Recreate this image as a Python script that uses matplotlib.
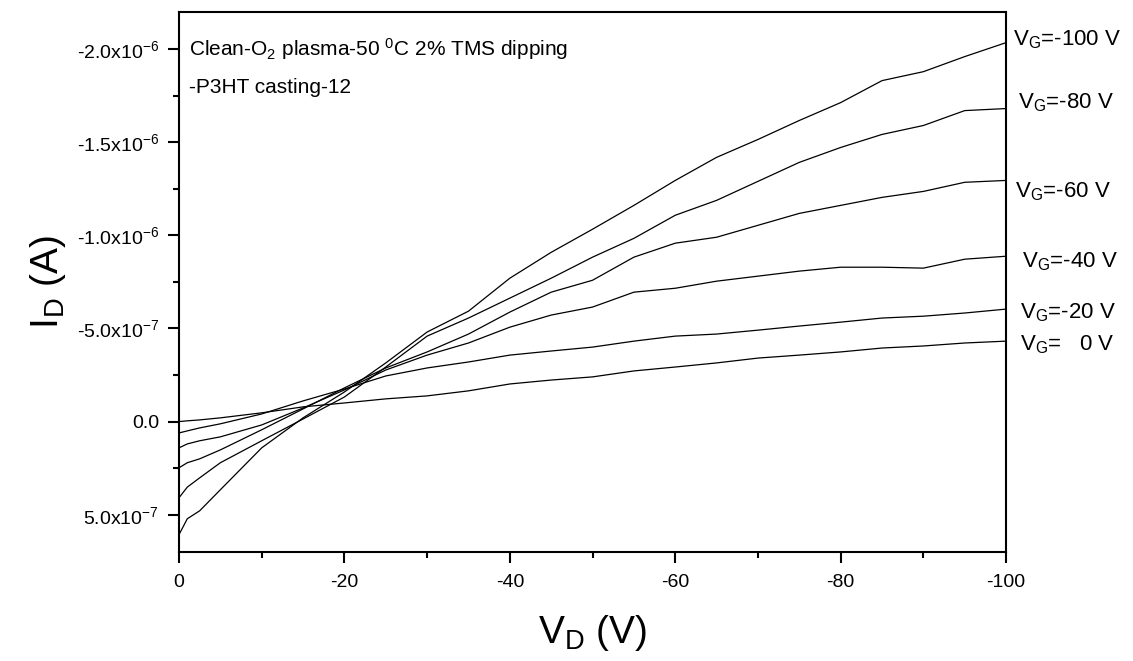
import matplotlib
matplotlib.use("Agg")
import matplotlib.pyplot as plt
from matplotlib.ticker import FixedLocator, FuncFormatter

plt.rcParams['font.family'] = ['Liberation Sans', 'DejaVu Sans']
plt.rcParams['mathtext.fontset'] = 'custom'
plt.rcParams['mathtext.rm'] = 'Liberation Sans'
plt.rcParams['mathtext.it'] = 'Liberation Sans'
plt.rcParams['mathtext.bf'] = 'Liberation Sans'
plt.rcParams['axes.unicode_minus'] = False

# drain voltage (V)
vd = [0, -1, -2.5, -5, -10, -15, -20, -25, -30, -35, -40, -45, -50,
      -55, -60, -65, -70, -75, -80, -85, -90, -95, -100]

# drain current in units of 1e-7 A, one list per gate voltage
id_vg0 = [0.00, -0.04, -0.09, -0.20, -0.47, -0.79, -1.00, -1.22, -1.38, -1.65, -2.02, -2.23,
          -2.40, -2.72, -2.93, -3.15, -3.41, -3.57, -3.74, -3.95, -4.06, -4.22, -4.32]
id_vg20 = [0.61, 0.50, 0.34, 0.12, -0.41, -1.11, -1.75, -2.45, -2.88, -3.20, -3.57, -3.79,
           -4.00, -4.32, -4.59, -4.70, -4.91, -5.13, -5.34, -5.56, -5.66, -5.83, -6.04]
id_vg40 = [1.41, 1.20, 1.03, 0.82, 0.18, -0.73, -1.70, -2.77, -3.57, -4.22, -5.07, -5.72,
           -6.15, -6.95, -7.16, -7.54, -7.81, -8.08, -8.29, -8.29, -8.24, -8.72, -8.88]
id_vg60 = [2.48, 2.21, 2.00, 1.52, 0.44, -0.68, -1.81, -2.88, -3.74, -4.70, -5.88, -6.95,
           -7.59, -8.83, -9.58, -9.90, -10.54, -11.18, -11.61, -12.04, -12.36, -12.85, -12.95]
id_vg80 = [4.09, 3.52, 3.02, 2.21, 1.03, -0.14, -1.32, -2.93, -4.59, -5.56, -6.63, -7.70,
           -8.83, -9.84, -11.08, -11.88, -12.90, -13.92, -14.72, -15.42, -15.90, -16.70, -16.81]
id_vg100 = [6.07, 5.22, 4.79, 3.66, 1.41, -0.20, -1.59, -3.15, -4.81, -5.93, -7.70, -9.09,
            -10.33, -11.61, -12.95, -14.19, -15.15, -16.17, -17.13, -18.31, -18.79, -19.60, -20.35]

curves = [id_vg0, id_vg20, id_vg40, id_vg60, id_vg80, id_vg100]
labels = [r'V$_\mathrm{G}$=   0 V', r'V$_\mathrm{G}$=-20 V', r'V$_\mathrm{G}$=-40 V',
          r'V$_\mathrm{G}$=-60 V', r'V$_\mathrm{G}$=-80 V', r'V$_\mathrm{G}$=-100 V']
# label anchor (x in V, y in 1e-7 A)
label_x = [-101.7, -101.7, -101.9, -101.1, -101.45, -100.85]
label_y = [-3.84, -5.56, -8.29, -12.04, -16.81, -20.19]

yticks = [5e-7, 0.0, -5e-7, -1e-6, -1.5e-6, -2e-6]
ytick_labels = [r'5.0x10$^{-7}$', '0.0', r'-5.0x10$^{-7}$', r'-1.0x10$^{-6}$',
                r'-1.5x10$^{-6}$', r'-2.0x10$^{-6}$']

fig = plt.figure(figsize=(11.33, 6.61), dpi=100)
ax = fig.add_axes([0.158, 0.165, 0.730, 0.817])

for ys in curves:
    ax.plot(vd, [v * 1e-7 for v in ys], color='black', lw=0.9)

for lab, lx, ly in zip(labels, label_x, label_y):
    ax.text(lx, ly * 1e-7, lab, fontsize=16, ha='left', va='baseline', clip_on=False)

ax.text(0.012, 0.919, r'Clean-O$_2$ plasma-50 $^0$C 2% TMS dipping',
        transform=ax.transAxes, fontsize=15, va='baseline')
ax.text(0.012, 0.849, '-P3HT casting-12', transform=ax.transAxes, fontsize=15, va='baseline')

ax.set_xlim(0, -100)
ax.set_ylim(7e-7, -2.2e-6)
ax.set_xticks([0, -20, -40, -60, -80, -100])
ax.set_xticks([-10, -30, -50, -70, -90], minor=True)
ax.yaxis.set_major_locator(FixedLocator(yticks))
ax.yaxis.set_major_formatter(FuncFormatter(lambda v, pos: ytick_labels[pos] if pos is not None and pos < len(ytick_labels) else ''))
ax.set_yticks([2.5e-7, -2.5e-7, -7.5e-7, -1.25e-6, -1.75e-6], minor=True)

ax.tick_params(which='major', direction='out', length=8, width=1.5, labelsize=14)
ax.tick_params(axis='x', which='major', pad=8)
ax.tick_params(axis='y', which='major', pad=6.5)
ax.tick_params(which='minor', direction='out', length=4.5, width=1.5)
for sp in ax.spines.values():
    sp.set_linewidth(1.5)

ax.set_xlabel(r'V$_\mathrm{D}$ (V)', fontsize=28, labelpad=16)
ax.set_ylabel(r'I$_\mathrm{D}$ (A)', fontsize=28, labelpad=6)

fig.savefig('out.png', dpi=100)
